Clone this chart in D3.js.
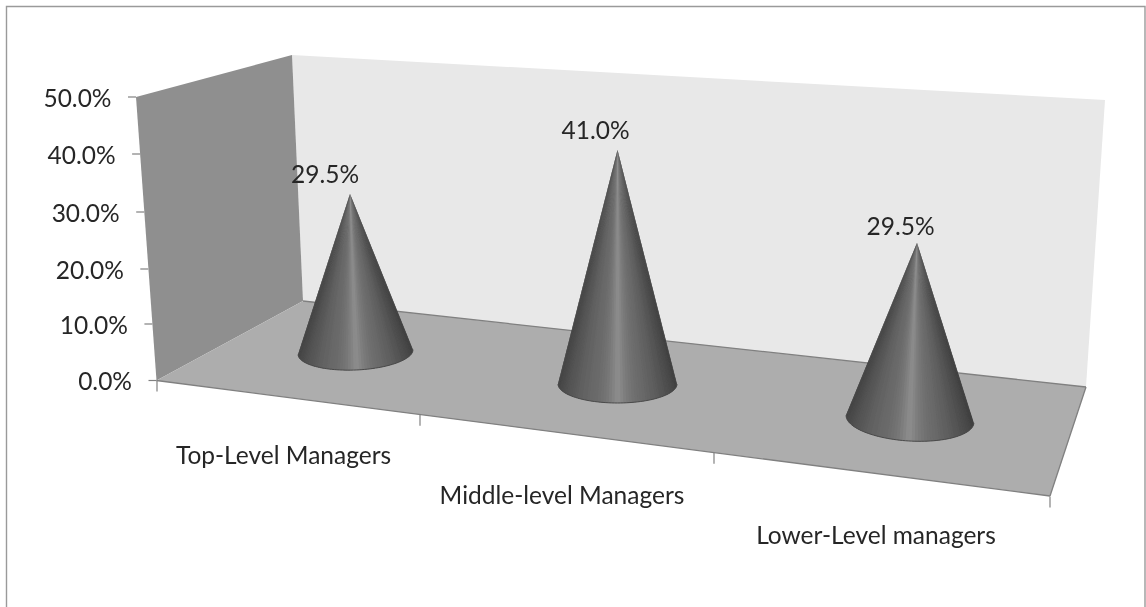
<!DOCTYPE html>
<html>
<head>
<meta charset="utf-8">
<script src="https://cdn.jsdelivr.net/npm/d3@7"></script>
<style>
html,body{margin:0;padding:0;background:#fff;overflow:hidden}
svg{display:block}
text{font-family:Lato,"Noto Sans",sans-serif;fill:#262626;font-size:24.5px}
</style>
</head>
<body>
<div id="chart"></div>
<script>
const categories = ["Top-Level Managers", "Middle-level Managers", "Lower-Level managers"];
const values = [29.5, 41.0, 29.5];
const valueTicks = [0, 10, 20, 30, 40, 50];
const valueTickLabels = ["0.0%", "10.0%", "20.0%", "30.0%", "40.0%", "50.0%"];

const W = 1146, H = 607;
const svg = d3.select("#chart").append("svg").attr("width", W).attr("height", H);
const defs = svg.append("defs");
defs.append("filter").attr("id", "soft").attr("x", "-2%").attr("y", "-2%").attr("width", "104%").attr("height", "104%")
  .append("feGaussianBlur").attr("stdDeviation", 0.45);

// Frame
svg.append("path").attr("d", `M6.5,${H}V6.5H1145V${H}`).attr("fill", "none").attr("stroke", "#9a9a9a").attr("stroke-width", 1.4);

const g = svg.append("g").attr("filter", "url(#soft)");

// Perspective box corners
const wallTL = [136, 97], wallBL = [156.5, 380.5], backTL = [292, 55], backBL = [303, 301], backTR = [1105, 100], backBR = [1086, 387], floorFR = [1050, 496];
const poly = (pts, fill) => g.append("polygon").attr("points", pts.map(p => p.join(",")).join(" ")).attr("fill", fill);
poly([backTL, backTR, backBR, backBL], "#e8e8e8");
poly([wallTL, backTL, backBL, wallBL], "#8f8f8f");
poly([wallBL, backBL, backBR, floorFR], "#adadad");
const edge = (a, b) => g.append("line").attr("x1", a[0]).attr("y1", a[1]).attr("x2", b[0]).attr("y2", b[1]).attr("stroke", "#808080").attr("stroke-width", 1.3);
edge(wallBL, floorFR); edge(floorFR, backBR); edge(backBL, backBR);

// Value axis: slanted front edge of the side wall
const yScale = d3.scaleLinear().domain(valueTicks).range([380.5, 324, 269, 212, 154, 97]);
const tickRight = d3.scaleLinear().domain([0, 50]).range([156.5, 136]);
const vt = g.selectAll(".vt").data(valueTicks).join("g").attr("class", "vt");
vt.append("line")
  .attr("x1", d => tickRight(d) - 8).attr("x2", d => tickRight(d))
  .attr("y1", d => yScale(d)).attr("y2", d => yScale(d))
  .attr("stroke", "#808080").attr("stroke-width", 1.2);
vt.append("text")
  .attr("x", d => tickRight(d) - 24.5).attr("y", d => yScale(d) + 9.5)
  .attr("text-anchor", "end")
  .text((d, i) => valueTickLabels[i]);

// Category axis: ticks between categories along the front floor edge
const edgeX = d3.scaleLinear().domain([0, 1, 2, 3]).range([157, 420, 714, 1050]);
const edgeY = d3.scaleLinear().domain([157, 1050]).range([380.5, 496.5]);
g.selectAll(".ct").data(d3.range(categories.length + 1)).join("line").attr("class", "ct")
  .attr("x1", d => edgeX(d)).attr("x2", d => edgeX(d))
  .attr("y1", d => edgeY(edgeX(d))).attr("y2", d => edgeY(edgeX(d)) + 11)
  .attr("stroke", "#808080").attr("stroke-width", 1.2);
const catX = d3.scaleLinear().domain([0, 1, 2]).range([283.5, 562, 876]);
const catY = d3.scaleLinear().domain([0, 2]).range([464, 544]);
g.selectAll(".cl").data(categories).join("text").attr("class", "cl")
  .attr("x", (d, i) => catX(i)).attr("y", (d, i) => catY(i))
  .attr("text-anchor", "middle").text(d => d);

// Cones: base position and size per slot, set by the perspective
const cx = d3.scaleLinear().domain([0, 1, 2]).range([355.5, 617.5, 910]);
const cy = d3.scaleLinear().domain([0, 1, 2]).range([352, 384, 419]);
const rx = d3.scaleLinear().domain([0, 1, 2]).range([57.5, 59.5, 64]);
const ry = d3.scaleLinear().domain([0, 1, 2]).range([18, 19, 22]);
const tilt = d3.scaleLinear().domain([0, 1, 2]).range([-2.5, 0, 3.5]);
const pxPerUnit = d3.scaleLinear().domain([0, 1, 2]).range([5.36, 5.71, 5.97]);
const apexDx = d3.scaleLinear().domain([0, 1, 2]).range([-5.5, 0, 7]);
const labelDx = d3.scaleLinear().domain([0, 1, 2]).range([-25, -22, -16.5]);
const labelDy = d3.scaleLinear().domain([0, 1, 2]).range([-10.5, -10.5, -8]);

const shade = d3.scaleLinear()
  .domain([0, 0.06, 0.2, 0.36, 0.43, 0.5, 0.57, 0.64, 0.8, 0.94, 1])
  .range(["#444444", "#505050", "#626262", "#6e6e6e", "#7a7a7a", "#8e8e8e", "#7c7c7c", "#707070", "#606060", "#4c4c4c", "#404040"]);

const N = 64;
values.forEach((v, i) => {
  const c = g.append("g");
  const a = tilt(i) * Math.PI / 180;
  const pt = t => {
    const ex = rx(i) * Math.cos(t), ey = ry(i) * Math.sin(t);
    return [cx(i) + ex * Math.cos(a) - ey * Math.sin(a), cy(i) + ex * Math.sin(a) + ey * Math.cos(a)];
  };
  const apex = [cx(i) + apexDx(i), cy(i) - v * pxPerUnit(i)];
  // t runs from the right rim point (0) round the front to the left rim point (pi);
  // each wedge overlaps the next one so no seams show
  const wedge = k => {
    let d = `M${apex}`;
    for (let s = 0; s <= 4; s++) {
      const t = Math.min(Math.PI, Math.PI * (k + s * 0.5) / N);
      d += `L${pt(t)}`;
    }
    return d + "Z";
  };
  c.selectAll("path").data(d3.range(N)).join("path")
    .attr("d", wedge)
    .attr("fill", k => shade((1 + Math.cos(Math.PI * (k + 0.5) / N)) / 2));
  // Dark rim along the front of the base
  c.append("path")
    .attr("d", d3.line()(d3.range(N + 1).map(k => pt(Math.PI * k / N))))
    .attr("fill", "none").attr("stroke", "#4a4a4a").attr("stroke-width", 1);
  g.append("text")
    .attr("x", apex[0] + labelDx(i)).attr("y", apex[1] + labelDy(i))
    .attr("text-anchor", "middle")
    .text(v.toFixed(1) + "%");
});
</script>
</body>
</html>
